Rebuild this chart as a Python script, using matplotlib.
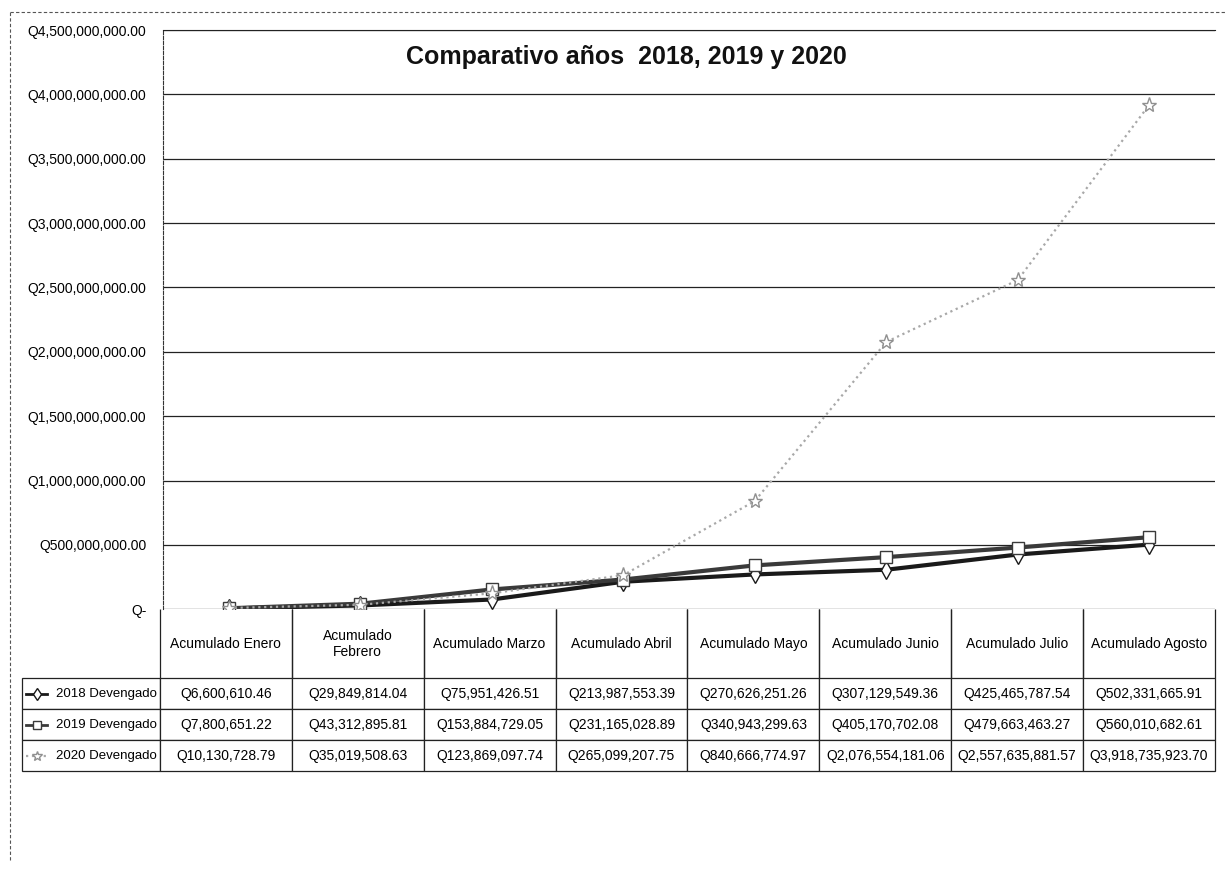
import matplotlib.pyplot as plt
from matplotlib.lines import Line2D

plt.rcParams['font.family'] = ['Liberation Sans', 'DejaVu Sans']

TITLE = 'Comparativo años  2018, 2019 y 2020'
months = ['Acumulado Enero', 'Acumulado\nFebrero', 'Acumulado Marzo', 'Acumulado Abril',
          'Acumulado Mayo', 'Acumulado Junio', 'Acumulado Julio', 'Acumulado Agosto']
series_names = ['2018 Devengado', '2019 Devengado', '2020 Devengado']
dev_2018 = [6600610.46, 29849814.04, 75951426.51, 213987553.39,
            270626251.26, 307129549.36, 425465787.54, 502331665.91]
dev_2019 = [7800651.22, 43312895.81, 153884729.05, 231165028.89,
            340943299.63, 405170702.08, 479663463.27, 560010682.61]
dev_2020 = [10130728.79, 35019508.63, 123869097.74, 265099207.75,
            840666774.97, 2076554181.06, 2557635881.57, 3918735923.70]
y_ticks = [0, 500e6, 1000e6, 1500e6, 2000e6, 2500e6, 3000e6, 3500e6, 4000e6, 4500e6]

COLORS = ['#1a1a1a', '#3a3a3a', '#a8a8a8']
STYLES = [dict(lw=3, ls='-', marker='d', ms=9, mfc='white', mec='#1a1a1a'),
          dict(lw=3, ls='-', marker='s', ms=9, mfc='white', mec='#3a3a3a'),
          dict(lw=1.6, ls=':', marker='*', ms=11, mfc='white', mec='#909090')]


def money(v):
    return f'Q{v:,.2f}'


fig = plt.figure(figsize=(12.26, 8.96), dpi=100)
ax = fig.add_axes([0.133, 0.320, 0.858, 0.6465])

x = list(range(len(months)))
for data, col, st in zip([dev_2018, dev_2019, dev_2020], COLORS, STYLES):
    ax.plot(x, data, color=col, zorder=3, **st)

ax.set_xlim(-0.5, len(months) - 0.5)
ax.set_ylim(0, 4500e6)
ax.set_yticks(y_ticks)
ax.set_yticklabels(['Q-' if v == 0 else money(v) for v in y_ticks], fontsize=10)
ax.set_xticks([])
ax.tick_params(axis='y', length=0, pad=12)
ax.grid(axis='y', color='#222222', lw=0.9)
for side in ['right', 'bottom']:
    ax.spines[side].set_visible(False)
ax.spines['top'].set_color('#222222')
ax.spines['left'].set_linestyle((0, (3, 1.5)))
ax.spines['left'].set_color('#333333')

fig.text(0.511, 0.936, TITLE, ha='center', va='center', fontsize=18,
         fontweight='bold', color='#111111')

# data table under the chart (widths / heights in axes fractions)
col_w = 1.003 / len(months)
lab_w = 138 / 1052
head_h = 0.280 * 69 / 162
row_h = 0.280 * 31 / 162
cell_text = [[money(v) for v in row] for row in [dev_2018, dev_2019, dev_2020]]
tab = ax.table(cellText=cell_text, rowLabels=series_names, colLabels=months,
               cellLoc='center', rowLoc='right', loc='bottom',
               bbox=[-0.003, -0.280, 1.003, 0.280])
tab.auto_set_font_size(False)
tab.set_fontsize(10)
tab._autoColumns.clear()  # keep our own width for the label column
for (r, c), cell in tab.get_celld().items():
    cell.set_edgecolor('#222222')
    cell.set_linewidth(0.9)
    cell.set_height(head_h if r == 0 else row_h)
    cell.set_width(lab_w if c == -1 else col_w)
    if r == 0:
        cell.visible_edges = 'LR'
    if c == -1:
        cell.PAD = 0.02
        cell.get_text().set_fontsize(9.5)

# legend keys inside the row label cells
key_y = [-0.147, -0.200, -0.254]
for ky, col, st in zip(key_y, COLORS, STYLES):
    kw = dict(st)
    kw['lw'] = min(kw['lw'], 2)
    kw['ms'] = kw['ms'] * 0.7
    ax.add_line(Line2D([-0.130, -0.120, -0.110], [ky, ky, ky], transform=ax.transAxes,
                       color=col, clip_on=False, markevery=[1], **kw))

# outer chart border
fig.add_artist(Line2D([0.008, 1.0], [0.987, 0.987], color='#555555', lw=0.8, ls=(0, (3, 2))))
fig.add_artist(Line2D([0.008, 0.008], [0.04, 0.987], color='#555555', lw=0.8, ls=(0, (3, 2))))

fig.savefig('out.png', dpi=100)
